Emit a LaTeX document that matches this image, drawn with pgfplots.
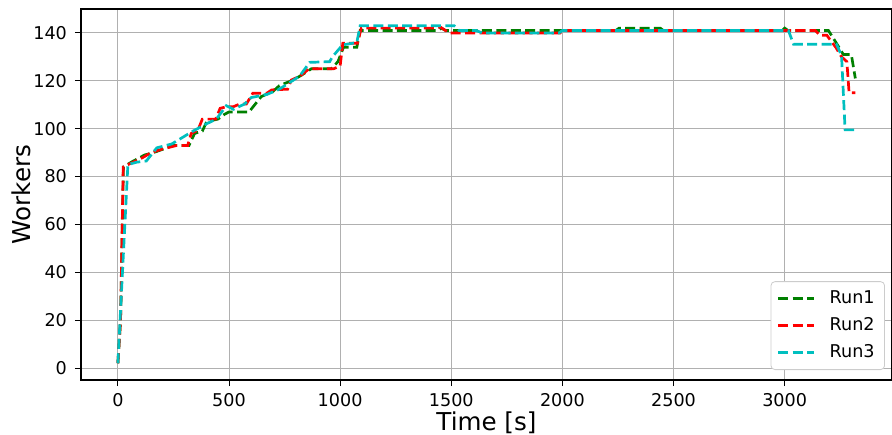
\documentclass[border=0pt]{standalone}
\usepackage{fontspec}
\setmainfont{DejaVu Sans}
\usepackage{pgfplots}
\pgfplotsset{compat=1.18}

\definecolor{mplgreen}{rgb}{0,0.5,0}
\definecolor{mplred}{rgb}{1,0,0}
\definecolor{mplcyan}{rgb}{0,0.75,0.75}
\definecolor{gridgray}{HTML}{B0B0B0}

\begin{document}
\begin{tikzpicture}
\begin{axis}[
    name=ax,
    scale only axis, width=405.5pt, height=185.5pt,
    xmin=-166, xmax=3483, ymin=-5, ymax=150,
    xtick={0,500,...,3000}, ytick={0,20,...,140},
    tick pos=left, tick align=outside, major tick length=3pt,
    tick style={black, line width=0.5pt},
    axis line style={line width=0.6pt},
    grid=major, major grid style={gridgray, line width=0.5pt},
    /pgf/number format/assume math mode=true,
    /pgf/number format/set thousands separator={},
    ticklabel style={font=\fontsize{8.8}{10}\selectfont},
    yticklabel style={xshift=-0.5pt},
    xlabel={Time [s]}, ylabel={Workers},
    label style={font=\fontsize{12.3}{14}\selectfont},
    xlabel style={at={([yshift=-25pt]axis description cs:0.5,0)}, anchor=base},
    ylabel style={at={([xshift=-25pt]axis description cs:0,0.5)}, anchor=base},
    every axis plot/.append style={line width=1.35pt, dash pattern=on 5pt off 2.2pt},
    legend style={at={(1,0)}, anchor=south east, xshift=-3.5pt, yshift=5pt,
        draw=black!20, rounded corners=2pt, fill=white,
        font=\fontsize{8.8}{10}\selectfont, row sep=1.5pt,
        inner xsep=3pt, inner ysep=2.5pt,
        /tikz/every odd column/.append style={column sep=5pt}},
    legend cell align=left,
    legend image code/.code={\draw[#1] (0pt,0pt) -- (18pt,0pt);},
]
\addplot[mplgreen] coordinates {
(0,2) (12,20) (25,84) (60,86) (120,89) (160,90) (250,93) (320,93) (345,98)
(380,99) (400,103) (450,104) (480,106) (500,107) (590,107) (645,113.4)
(697,115.5) (727,118) (780,120) (820,122) (870,125) (960,125) (990,128)
(1015,134) (1075,134) (1090,141) (1440,141) (1455,142) (1475,141)
(2240,141) (2255,142) (2440,142) (2455,141) (2990,141) (3000,142)
(3015,141) (3197,141) (3233,135.7) (3264,131) (3300,131) (3318,121)
};
\addplot[mplred] coordinates {
(0,2) (12,20) (24,84) (69,86) (113,88) (150,90) (200,91.5) (265,93) (314,93)
(330,98) (360,99.4) (380,104) (440,104) (460,108.5) (490,109.2) (520,109.2)
(548,110.3) (578,110.3) (607,114.8) (670,114.8) (692,116.2) (764,116.5)
(780,120.3) (820,122) (860,125) (970,125) (1000,126.2) (1012,135.7)
(1078,135.7) (1095,142) (1431,142) (1450,142.5) (1491,140) (1990,140)
(2000,141) (3138,141) (3160,139) (3190,139) (3230,134) (3256,130)
(3280,128) (3290,115) (3318,115)
};
\addplot[mplcyan] coordinates {
(0,2) (45,85) (85,86) (128,86.5) (175,92) (242,93.6) (338,99) (398,102)
(443,104) (488,109.6) (520,108.1) (570,110.3) (600,113) (670,114.3)
(720,116.2) (757,118.3) (818,122) (863,127.7) (953,128) (965,130)
(1011,135) (1075,136) (1090,143) (1513,143) (1535,141) (1612,141)
(1640,140) (1985,140) (2000,141) (3017,141) (3040,135.3) (3233,135.3)
(3256,130.6) (3272,99.5) (3317,99.5)
};
\legend{Run1, Run2, Run3}
\end{axis}
\pgfresetboundingbox
\path[use as bounding box] ([shift={(-40.5pt,-27.5pt)}]ax.south west) rectangle ([shift={(0pt,4.5pt)}]ax.north east);
\end{tikzpicture}
\end{document}
